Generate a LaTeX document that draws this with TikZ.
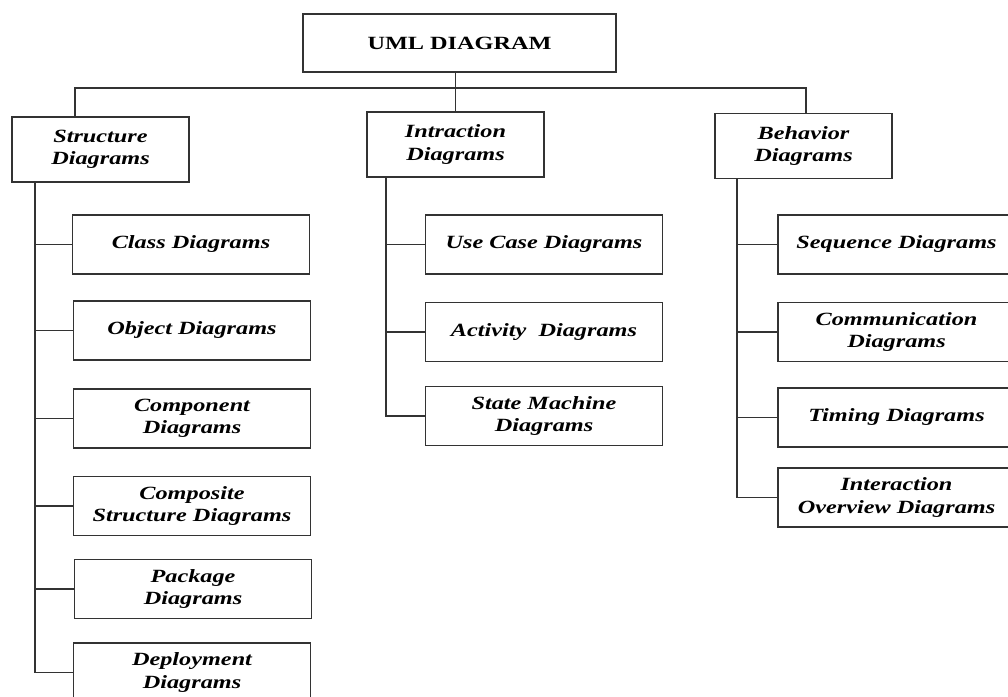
\documentclass[tikz,border=0pt]{standalone}
\usepackage{fontspec}
\setmainfont{Liberation Serif}[FakeStretch=1.3]
\begin{document}
\begin{tikzpicture}[x=0.75pt, y=-0.75pt,
    wire/.style={draw=black!80, line width=1.1pt},
    box/.style={draw=black!80, line width=1.1pt, align=center, inner sep=0pt,
        font=\fontsize{14}{16.7}\selectfont\bfseries\itshape},
    rootbox/.style={box, font=\fontsize{14}{16.7}\selectfont\bfseries,
        minimum width=234.75pt, minimum height=43.5pt},
    groupbox/.style={box, minimum width=132.75pt, minimum height=48.75pt},
    leafbox/.style={box, minimum width=177.75pt, minimum height=44.25pt}]
    \clip (0,0) rectangle (1008,697);
    % root and the three groups
    \node[rootbox] (uml) at (459.5,43) {UML DIAGRAM};
    \node[groupbox] (struct) at (100.5,149.5) {Structure\\Diagrams};
    \node[groupbox] (intr) at (455.5,144.5) {Intraction\\Diagrams};
    \node[groupbox] (behav) at (803.5,146) {Behavior\\Diagrams};
    % structure diagrams
    \node[leafbox] (class) at (191,244.5) {Class Diagrams};
    \node[leafbox] (object) at (192,330.5) {Object Diagrams};
    \node[leafbox] (component) at (192,418.5) {Component\\Diagrams};
    \node[leafbox] (composite) at (192,506) {Composite\\Structure Diagrams};
    \node[leafbox] (package) at (193,589) {Package\\Diagrams};
    \node[leafbox] (deploy) at (192,672.5) {Deployment\\Diagrams};
    % interaction diagrams
    \node[leafbox] (usecase) at (544,244.5) {Use Case Diagrams};
    \node[leafbox] (activity) at (544,332) {Activity~ Diagrams};
    \node[leafbox] (state) at (544,416) {State Machine\\Diagrams};
    % behavior diagrams
    \node[leafbox] (sequence) at (896.5,244.5) {Sequence Diagrams};
    \node[leafbox] (comm) at (896.5,332) {Communication\\Diagrams};
    \node[leafbox] (timing) at (896.5,417.5) {Timing Diagrams};
    \node[leafbox] (overview) at (896.5,497.5) {Interaction\\Overview Diagrams};
    % bus from the root
    \coordinate (busL) at (75,88);
    \coordinate (busR) at (806,88);
    \draw[wire] (uml.south -| intr.north) -- (intr.north);
    \draw[wire] (struct.north -| busL) -- (busL) -- (busR) -- (behav.north -| busR);
    % trunks
    \coordinate (sT) at (35,0);
    \coordinate (iT) at (386,0);
    \coordinate (bT) at (737,0);
    \draw[wire] (struct.south -| sT) -- (sT |- deploy.west) -- (deploy.west);
    \foreach \n in {class,object,component,composite,package}
        \draw[wire] (sT |- \n.west) -- (\n.west);
    \draw[wire] (intr.south -| iT) -- (iT |- state.west) -- (state.west);
    \foreach \n in {usecase,activity}
        \draw[wire] (iT |- \n.west) -- (\n.west);
    \draw[wire] (behav.south -| bT) -- (bT |- overview.west) -- (overview.west);
    \foreach \n in {sequence,comm,timing}
        \draw[wire] (bT |- \n.west) -- (\n.west);
\end{tikzpicture}
\end{document}
